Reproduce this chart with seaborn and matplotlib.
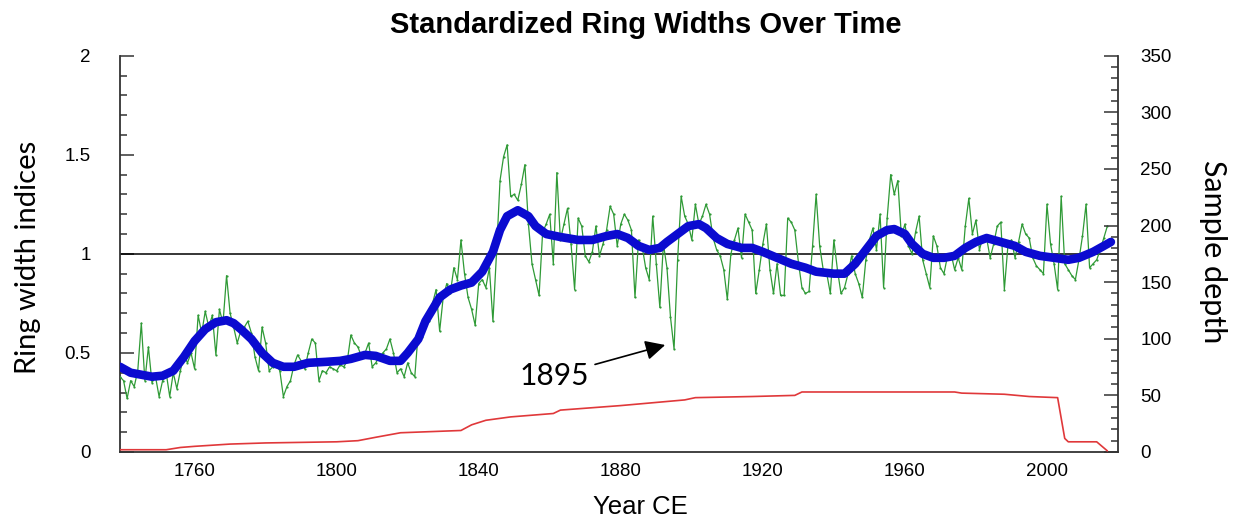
import numpy as np
import pandas as pd
import matplotlib
matplotlib.use("Agg")
import matplotlib.pyplot as plt
from matplotlib.ticker import MultipleLocator
import seaborn as sns

# ---------------- data ----------------
ring_years = list(range(1739, 2018))
ring_index = [
    0.38, 0.36, 0.27, 0.36, 0.33, 0.41, 0.65, 0.36, 0.53, 0.35,  # 1739-1748
    0.38, 0.28, 0.36, 0.40, 0.28, 0.40, 0.32, 0.41, 0.49, 0.45,  # 1749-1758
    0.50, 0.42, 0.69, 0.60, 0.71, 0.63, 0.69, 0.49, 0.72, 0.65,  # 1759-1768
    0.89, 0.70, 0.63, 0.55, 0.61, 0.63, 0.66, 0.60, 0.48, 0.41,  # 1769-1778
    0.63, 0.55, 0.41, 0.43, 0.44, 0.41, 0.28, 0.33, 0.36, 0.44,  # 1779-1788
    0.49, 0.46, 0.42, 0.50, 0.57, 0.55, 0.36, 0.41, 0.40, 0.43,  # 1789-1798
    0.42, 0.41, 0.44, 0.43, 0.46, 0.59, 0.55, 0.53, 0.48, 0.50,  # 1799-1808
    0.55, 0.43, 0.45, 0.48, 0.50, 0.52, 0.57, 0.50, 0.40, 0.42,  # 1809-1818
    0.38, 0.45, 0.40, 0.38, 0.61, 0.58, 0.68, 0.66, 0.75, 0.82,  # 1819-1828
    0.61, 0.78, 0.85, 0.80, 0.93, 0.87, 1.07, 0.90, 0.78, 0.72,  # 1829-1838
    0.64, 0.85, 0.87, 0.83, 0.93, 0.66, 1.00, 1.37, 1.49, 1.55,  # 1839-1848
    1.29, 1.30, 1.27, 1.35, 1.45, 1.15, 0.95, 0.87, 0.79, 1.11,  # 1849-1858
    1.15, 1.20, 0.95, 1.41, 1.07, 1.15, 1.23, 1.05, 0.82, 1.18,  # 1859-1868
    1.14, 0.99, 0.96, 1.01, 1.14, 0.99, 1.05, 1.12, 1.24, 1.20,  # 1869-1878
    1.04, 1.15, 1.20, 1.17, 1.12, 0.78, 1.07, 1.04, 0.93, 0.87,  # 1879-1888
    1.19, 0.95, 0.73, 1.05, 0.93, 0.68, 0.52, 0.97, 1.29, 1.19,  # 1889-1898
    1.15, 1.07, 1.25, 1.15, 1.19, 1.25, 1.20, 1.08, 1.02, 0.99,  # 1899-1908
    0.92, 0.77, 1.00, 1.07, 1.13, 0.98, 1.20, 1.16, 1.12, 0.80,  # 1909-1918
    0.92, 1.05, 1.15, 0.92, 0.80, 0.95, 0.79, 0.79, 1.18, 1.16,  # 1919-1928
    1.12, 0.96, 0.83, 0.80, 0.81, 1.04, 1.30, 1.04, 0.92, 0.90,  # 1929-1938
    0.80, 1.07, 0.92, 0.80, 0.83, 0.90, 0.99, 0.90, 0.85, 0.78,  # 1939-1948
    0.97, 1.07, 1.13, 1.02, 1.20, 0.83, 1.18, 1.40, 1.30, 1.37,  # 1949-1958
    1.09, 1.15, 1.04, 1.00, 1.11, 1.19, 0.97, 0.90, 0.83, 1.09,  # 1959-1968
    1.04, 0.93, 0.90, 0.99, 1.00, 0.92, 0.98, 0.92, 1.14, 1.28,  # 1969-1978
    1.10, 1.17, 1.02, 1.09, 1.08, 0.98, 1.05, 1.14, 1.16, 0.82,  # 1979-1988
    1.04, 1.07, 0.98, 1.06, 1.15, 1.10, 1.08, 0.98, 0.94, 0.92,  # 1989-1998
    0.90, 1.25, 1.05, 0.95, 0.82, 1.29, 0.95, 0.92, 0.89, 0.87,  # 1999-2008
    0.97, 1.09, 1.25, 0.93, 0.95, 0.97, 1.02, 1.08, 1.14,        # 2009-2017
]

smooth_years = [1739, 1742, 1745, 1748, 1751, 1754, 1757, 1760, 1763, 1766,
                1769, 1771, 1773, 1776, 1779, 1782, 1785, 1788, 1792, 1797,
                1801, 1804, 1808, 1811, 1815, 1818, 1820, 1823, 1825, 1827,
                1829, 1832, 1835, 1838, 1841, 1844, 1846, 1848, 1851, 1854,
                1856, 1859, 1863, 1868, 1872, 1876, 1879, 1882, 1885, 1888,
                1891, 1893, 1896, 1899, 1902, 1904, 1907, 1910, 1914, 1917,
                1920, 1924, 1928, 1932, 1935, 1940, 1943, 1946, 1949, 1952,
                1955, 1957, 1960, 1962, 1965, 1968, 1971, 1974, 1977, 1980,
                1983, 1987, 1991, 1994, 1998, 2002, 2006, 2009, 2013, 2016,
                2018]
smooth_index = [0.43, 0.40, 0.39, 0.38, 0.385, 0.41, 0.48, 0.56, 0.62, 0.655,
                0.665, 0.65, 0.62, 0.57, 0.50, 0.45, 0.43, 0.43, 0.45, 0.455,
                0.46, 0.47, 0.49, 0.485, 0.46, 0.46, 0.50, 0.57, 0.66, 0.72,
                0.78, 0.82, 0.84, 0.855, 0.91, 1.01, 1.12, 1.19, 1.22, 1.19,
                1.14, 1.10, 1.085, 1.07, 1.07, 1.09, 1.10, 1.08, 1.04, 1.02,
                1.03, 1.06, 1.10, 1.14, 1.15, 1.13, 1.08, 1.05, 1.03, 1.03,
                1.01, 0.98, 0.95, 0.93, 0.91, 0.90, 0.90, 0.95, 1.02, 1.09,
                1.12, 1.125, 1.10, 1.05, 1.00, 0.98, 0.98, 0.99, 1.03, 1.06,
                1.08, 1.06, 1.04, 1.01, 0.99, 0.98, 0.97, 0.98, 1.01, 1.04,
                1.06]

depth_years = [1739, 1752, 1756, 1760, 1770, 1780, 1800, 1806, 1811, 1818,
               1835, 1838, 1842, 1849, 1861, 1863, 1880, 1898, 1901, 1917,
               1929, 1931, 1974, 1976, 1988, 1995, 2003, 2004, 2005, 2006,
               2014, 2017]
depth_counts = [2, 2, 4, 5, 7, 8, 9, 10, 13, 17,
                19, 24, 28, 31, 34, 37, 41, 46, 48, 49,
                50, 53, 53, 52, 51, 49, 48, 30, 12, 9,
                9, 1]

x_ticks = [1760, 1800, 1840, 1880, 1920, 1960, 2000]
left_ticks = [0, 0.5, 1, 1.5, 2]
left_tick_labels = ["0", "0.5", "1", "1.5", "2"]
right_ticks = [0, 50, 100, 150, 200, 250, 300, 350]

title_text = "Standardized Ring Widths Over Time"
annot_text = "1895"

# ---------------- styling ----------------
sns.set_style("white")
plt.rcParams["font.family"] = ["Liberation Sans", "DejaVu Sans"]
plt.rcParams["text.color"] = "black"
plt.rcParams["axes.labelcolor"] = "black"
plt.rcParams["xtick.color"] = "black"
plt.rcParams["ytick.color"] = "black"

fig = plt.figure(figsize=(12.44, 5.21), dpi=100)
ax = fig.add_axes([120 / 1244, 69 / 521, 998 / 1244, 396.3 / 521])
ax2 = ax.twinx()

ring_df = pd.DataFrame({"year": ring_years, "index": ring_index})
smooth_df = pd.DataFrame({"year": smooth_years, "index": smooth_index})
depth_df = pd.DataFrame({"year": depth_years, "depth": depth_counts})

ax.axhline(1.0, color="black", lw=1.1, zorder=2)
sns.lineplot(data=ring_df, x="year", y="index", ax=ax, color="#2f9a36",
             lw=0.9, marker="o", markersize=1.6, markeredgewidth=0,
             zorder=3, estimator=None)
sns.lineplot(data=smooth_df, x="year", y="index", ax=ax, color="#0b0bd0",
             lw=6.2, solid_capstyle="round", solid_joinstyle="round",
             zorder=4, estimator=None)
sns.lineplot(data=depth_df, x="year", y="depth", ax=ax2, color="#e0383a",
             lw=1.2, zorder=3, estimator=None)

ax.set_xlim(1739, 2020)
ax.set_ylim(0, 2)
ax2.set_ylim(0, 350)

spine_col = "#333333"
for a in (ax, ax2):
    a.spines["top"].set_visible(False)
    for s in a.spines.values():
        s.set_color(spine_col)
        s.set_linewidth(1.3)
ax.spines["right"].set_visible(False)
ax2.spines["left"].set_visible(False)
ax2.spines["bottom"].set_visible(False)

ax.set_xticks(x_ticks)
ax.xaxis.set_minor_locator(MultipleLocator(10))
ax.set_yticks(left_ticks)
ax.set_yticklabels(left_tick_labels)
ax.yaxis.set_minor_locator(MultipleLocator(0.1))
ax2.set_yticks(right_ticks)
ax2.yaxis.set_minor_locator(MultipleLocator(10))

ax.tick_params(axis="x", which="major", direction="in", length=10, width=1.1,
               color=spine_col, labelsize=13.5, pad=8, labelcolor="black")
ax.tick_params(axis="x", which="minor", direction="in", length=5, width=1.1,
               color=spine_col)
ax.tick_params(axis="y", which="major", direction="in", length=10, width=1.1,
               color=spine_col, labelsize=13.5, pad=21, labelcolor="black")
ax.tick_params(axis="y", which="minor", direction="in", length=5, width=1.1,
               color=spine_col)
ax2.tick_params(axis="y", which="major", direction="in", length=10, width=1.1,
                color=spine_col, labelsize=13.5, pad=16, labelcolor="black")
ax2.tick_params(axis="y", which="minor", direction="in", length=5, width=1.1,
                color=spine_col)

ax.set_xlabel("Year CE", fontsize=18.5, color="black")
ax.xaxis.set_label_coords(0.521, -0.139)
ax.xaxis.label.set_va("center")
ax.set_ylabel("Ring width indices", fontsize=21, family=["Lato", "DejaVu Sans"],
              va="center", color="black")
ax.yaxis.set_label_coords(-0.092, 0.49)
ax2.set_ylabel("Sample depth", fontsize=22, family=["Lato", "DejaVu Sans"],
               rotation=270, va="center", color="black")
ax2.yaxis.set_label_coords(1.095, 0.505)

ax.text(0.527, 1.077, title_text, transform=ax.transAxes, ha="center",
        va="center", fontsize=21, fontweight="bold", color="black")

ax.annotate(annot_text, xy=(1892.5, 0.54), xytext=(1851.5, 0.385),
            fontsize=21.5, family=["Lato", "DejaVu Sans"], va="center",
            ha="left", color="black",
            arrowprops=dict(arrowstyle="-|>", color="black", lw=1.2,
                            mutation_scale=30, shrinkA=2, shrinkB=0))

fig.savefig("out.png", dpi=100)
